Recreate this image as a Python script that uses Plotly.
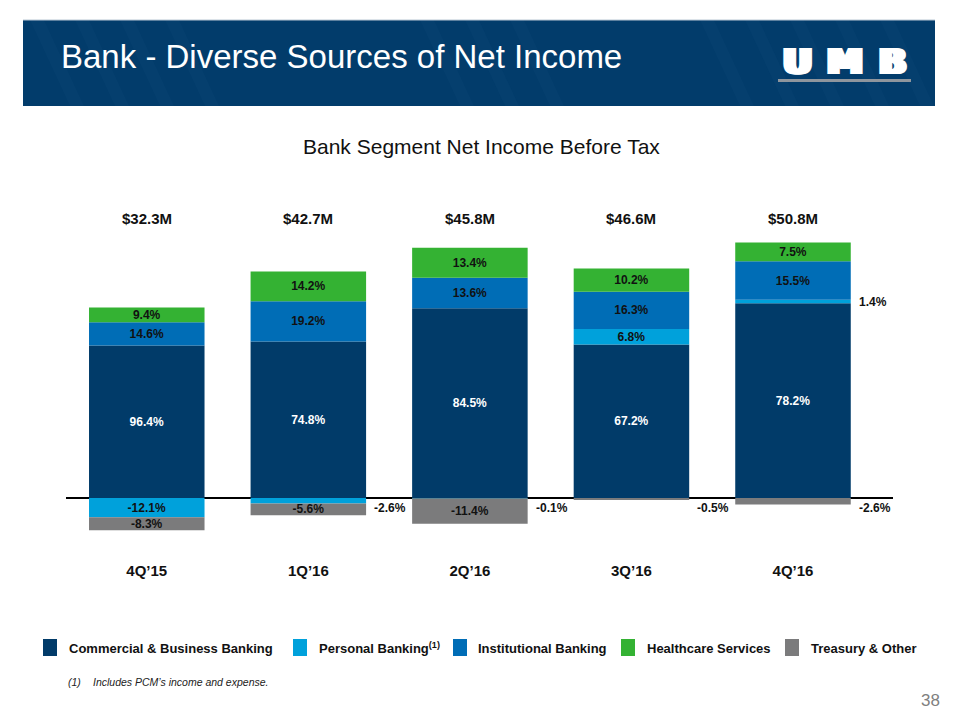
import plotly.graph_objects as go

# ---------------- data ----------------
categories = ["4Q\u201915", "1Q\u201916", "2Q\u201916", "3Q\u201916", "4Q\u201916"]
totals_musd = [32.3, 42.7, 45.8, 46.6, 50.8]
total_labels = ["$32.3M", "$42.7M", "$45.8M", "$46.6M", "$50.8M"]

commercial_pct = [96.4, 74.8, 84.5, 67.2, 78.2]
personal_pct = [-12.1, -2.6, -0.1, 6.8, 1.4]
institutional_pct = [14.6, 19.2, 13.6, 16.3, 15.5]
healthcare_pct = [9.4, 14.2, 13.4, 10.2, 7.5]
treasury_pct = [-8.3, -5.6, -11.4, -0.5, -2.6]

series_names = ["Commercial & Business Banking", "Personal Banking", "Institutional Banking",
                "Healthcare Services", "Treasury & Other"]
series_pct = [commercial_pct, personal_pct, institutional_pct, healthcare_pct, treasury_pct]
series_colors = ["#013B69", "#00A1DB", "#006DB6", "#34B233", "#7B7B7C"]
series_text_colors = ["#FFFFFF", "#111111", "#111111", "#111111", "#111111"]

# labels drawn beside the bar instead of inside (series index, category index)
outside_labels = [(1, 1), (1, 2), (4, 3), (1, 4), (4, 4)]

W, H = 960, 720
def px_x(x):
    return x / W
def px_y(y):
    return 1 - y / H

fig = go.Figure()

for si, (name, pct, col, tcol) in enumerate(zip(series_names, series_pct, series_colors, series_text_colors)):
    yvals = [p / 100.0 * t for p, t in zip(pct, totals_musd)]
    texts = []
    for ci, p in enumerate(pct):
        if (si, ci) in outside_labels:
            texts.append("")
        else:
            texts.append(f"{p:.1f}%")
    fig.add_trace(go.Bar(
        x=categories, y=yvals, name=name, marker=dict(color=col, line=dict(width=0)),
        text=texts, textposition="inside", insidetextanchor="middle", textangle=0,
        textfont=dict(family="Arial", size=12, color=tcol, weight=700),
        showlegend=False, hoverinfo="skip",
    ))

# outside labels
for si, ci in outside_labels:
    p = series_pct[si][ci]
    t = totals_musd[ci]
    if p >= 0:
        base = sum(series_pct[k][ci] for k in range(si) if series_pct[k][ci] >= 0) / 100.0 * t
        yv = base + p / 100.0 * t / 2
        ysh = 0
    else:
        yv = 0
        ysh = -10
    fig.add_annotation(x=categories[ci], y=yv, xref="x", yref="y", text=f"{p:.1f}%",
                       showarrow=False, xanchor="left", yanchor="middle", xshift=64, yshift=ysh,
                       font=dict(family="Arial", size=12, color="#111111", weight=700))

# totals above bars
for c, lab in zip(categories, total_labels):
    fig.add_annotation(x=c, y=px_y(218), xref="x", yref="paper", text=lab, showarrow=False,
                       xanchor="center", yanchor="middle",
                       font=dict(family="Arial", size=15, color="#111111", weight=700))

k = 4.9  # px per $M
fig.update_layout(
    width=W, height=H, autosize=False,
    margin=dict(l=0, r=0, t=0, b=0),
    paper_bgcolor="white", plot_bgcolor="white",
    barmode="relative", bargap=0.285,
    uniformtext=dict(minsize=12, mode="show"),
    xaxis=dict(domain=[px_x(66), px_x(893)], showgrid=False, showline=False, ticks="",
               tickfont=dict(family="Arial", size=15, color="#111111", weight=700),
               fixedrange=True),
    yaxis=dict(domain=[px_y(560), px_y(200)], range=[-62 / k, 298 / k], showgrid=False,
               showticklabels=False, zeroline=True, zerolinecolor="#000000", zerolinewidth=2,
               fixedrange=True),
)

shapes = []
# header banner
shapes.append(dict(type="rect", xref="paper", yref="paper", x0=px_x(23), x1=px_x(935),
                   y0=px_y(106), y1=px_y(20), fillcolor="#023C6B", line=dict(width=0), layer="below"))
shapes.append(dict(type="line", xref="paper", yref="paper", x0=px_x(23), x1=px_x(935),
                   y0=px_y(20), y1=px_y(20), line=dict(color="#B9C6D3", width=1)))
# subtle diagonal stripes in header
for xs in [30, 75, 120, 165, 420, 465, 510, 700, 745, 790, 835, 880]:
    x0 = xs
    path = (f"M {px_x(x0)},{px_y(20)} L {px_x(x0 + 14)},{px_y(20)} "
            f"L {px_x(min(x0 + 14 + 40, 935))},{px_y(106)} L {px_x(min(x0 + 40, 935))},{px_y(106)} Z")
    shapes.append(dict(type="path", xref="paper", yref="paper", path=path,
                       fillcolor="#0A4474", line=dict(width=0), layer="below", opacity=0.4))
# logo underline
shapes.append(dict(type="rect", xref="paper", yref="paper", x0=px_x(778), x1=px_x(911),
                   y0=px_y(82), y1=px_y(79), fillcolor="#8E959D", line=dict(width=0)))

# legend squares
legend_sq_x = [43, 293, 453, 621, 785]
legend_tx_x = [67, 317, 476, 645, 809]
legend_labels = ["Commercial & Business Banking", "Personal Banking<sup>(1)</sup>",
                 "Institutional Banking", "Healthcare Services", "Treasury & Other"]
for sx, col in zip(legend_sq_x, series_colors):
    shapes.append(dict(type="rect", xref="paper", yref="paper", x0=px_x(sx), x1=px_x(sx + 14),
                       y0=px_y(656), y1=px_y(639), fillcolor=col, line=dict(width=0)))
fig.update_layout(shapes=shapes)

for tx, lab in zip(legend_tx_x, legend_labels):
    fig.add_annotation(x=px_x(tx), y=px_y(648), xref="paper", yref="paper", text=lab,
                       showarrow=False, xanchor="left", yanchor="middle",
                       font=dict(family="Arial", size=13, color="#111111", weight=700))

# title
fig.add_annotation(x=px_x(59), y=px_y(57), xref="paper", yref="paper",
                   text="Bank - Diverse Sources of Net Income", showarrow=False,
                   xanchor="left", yanchor="middle",
                   font=dict(family="Arial", size=33, color="#FFFFFF"))
# logo letters
for letter, cx in zip(["U", "M", "B"], [797, 845, 892]):
    fig.add_annotation(x=px_x(cx), y=px_y(61), xref="paper", yref="paper", text=letter,
                       showarrow=False, xanchor="center", yanchor="middle",
                       font=dict(family="DejaVu Sans", size=36, color="#FFFFFF", weight=700,
                                 shadow="1.5px 0 0 #FFFFFF, -1.5px 0 0 #FFFFFF, 3px 0 0 #FFFFFF, -3px 0 0 #FFFFFF"))

# subtitle
fig.add_annotation(x=px_x(481), y=px_y(147), xref="paper", yref="paper",
                   text="Bank Segment Net Income Before Tax", showarrow=False,
                   xanchor="center", yanchor="middle",
                   font=dict(family="Arial", size=21, color="#111111"))

# footnote
fig.add_annotation(x=px_x(66), y=px_y(682), xref="paper", yref="paper", text="(1)",
                   showarrow=False, xanchor="left", yanchor="middle",
                   font=dict(family="Arial", size=10.5, color="#222222", style="italic"))
fig.add_annotation(x=px_x(91), y=px_y(682), xref="paper", yref="paper",
                   text="Includes PCM\u2019s income and expense.", showarrow=False,
                   xanchor="left", yanchor="middle",
                   font=dict(family="Arial", size=10.5, color="#222222", style="italic"))
# page number
fig.add_annotation(x=px_x(942), y=px_y(700), xref="paper", yref="paper", text="38",
                   showarrow=False, xanchor="right", yanchor="middle",
                   font=dict(family="Arial", size=17, color="#808080"))

fig.write_html("out.html", config={"displayModeBar": False},
               post_script="document.body.style.margin='0';document.body.style.overflow='hidden';")
